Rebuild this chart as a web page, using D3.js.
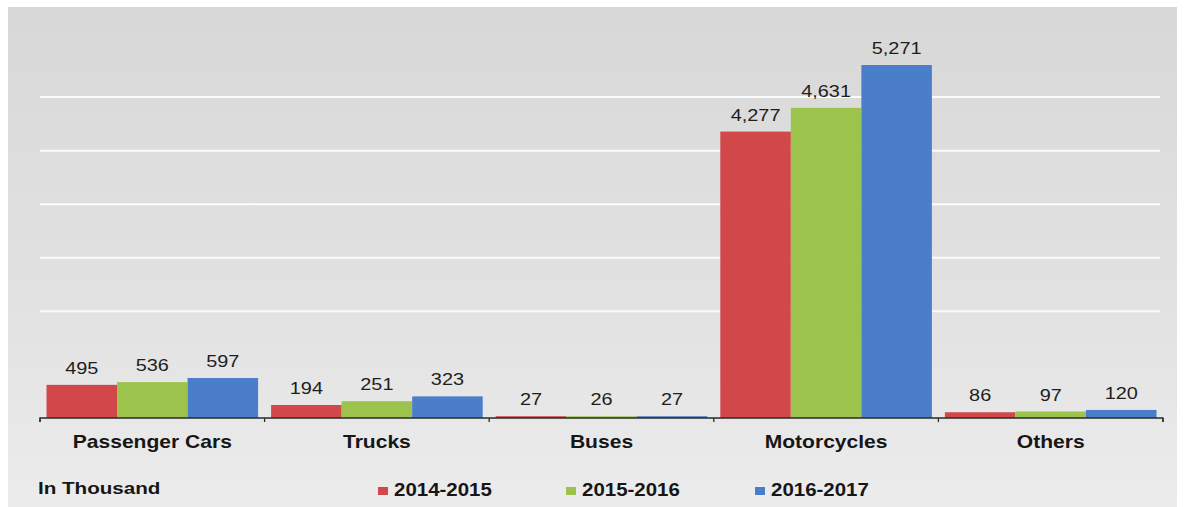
<!DOCTYPE html>
<html>
<head>
<meta charset="utf-8">
<script src="https://cdn.jsdelivr.net/npm/d3@7"></script>
<style>
  html, body { margin: 0; padding: 0; background: #ffffff; }
  svg { display: block; }
  text { font-family: "Liberation Sans", Arial, sans-serif; }
</style>
</head>
<body>
<svg id="chart" width="1185" height="507"></svg>
<script>
// ---- data ----
const categories = ["Passenger Cars", "Trucks", "Buses", "Motorcycles", "Others"];
const seriesNames = ["2014-2015", "2015-2016", "2016-2017"];
const values2014 = [495, 194, 27, 4277, 86];
const values2015 = [536, 251, 26, 4631, 97];
const values2016 = [597, 323, 27, 5271, 120];
const gridTicks = [1600, 2400, 3200, 4000, 4800];
const unitLabel = "In Thousand";

const seriesValues = [values2014, values2015, values2016];
const colors = ["#d2484a", "#9cc44c", "#4a7ecb"];
const SX = 1.17; // horizontal text stretch seen in the reference

const svg = d3.select("#chart");
const W = 1185, H = 507;

// background with soft gradient
const defs = svg.append("defs");
const grad = defs.append("linearGradient").attr("id", "bg").attr("x1", 0).attr("y1", 0).attr("x2", 0).attr("y2", 1);
grad.append("stop").attr("offset", "0%").attr("stop-color", "#d8d8d8");
grad.append("stop").attr("offset", "60%").attr("stop-color", "#e2e2e2");
grad.append("stop").attr("offset", "100%").attr("stop-color", "#ececec");
svg.append("rect").attr("x", 8).attr("y", 7).attr("width", 1169).attr("height", H - 7).attr("fill", "url(#bg)");

// scales
const x0 = d3.scaleBand().domain(categories).range([40, 1163]).padding(0);
const x1 = d3.scaleBand().domain(seriesNames).range([6.5, x0.bandwidth() - 6.5]).padding(0);
const y = d3.scaleLinear().domain([0, 5600]).range([418, 43]);

// gridlines
const grid = svg.append("g").attr("transform", "translate(40,0)")
  .call(d3.axisLeft(y).tickValues(gridTicks).tickSize(-1120).tickFormat(""));
grid.select(".domain").remove();
grid.selectAll(".tick line").attr("stroke", "#fbfbfb").attr("stroke-width", 2);

// bars
const rows = categories.map((c, i) => ({ cat: c, vals: seriesNames.map((s, j) => ({ s, j, v: seriesValues[j][i] })) }));
const groups = svg.append("g").selectAll("g").data(rows).join("g")
  .attr("transform", d => `translate(${x0(d.cat)},0)`);
groups.selectAll("rect").data(d => d.vals).join("rect")
  .attr("x", d => x1(d.s))
  .attr("width", x1.bandwidth())
  .attr("y", d => y(d.v))
  .attr("height", d => y(0) - y(d.v))
  .attr("fill", d => colors[d.j]);

// value labels
const fmt = d3.format(",");
groups.selectAll("text.val").data(d => d.vals).join("text")
  .attr("class", "val")
  .attr("transform", d => `translate(${x1(d.s) + x1.bandwidth() / 2},${y(d.v) - 11}) scale(${SX},1)`)
  .attr("text-anchor", "middle")
  .attr("font-size", 17)
  .attr("fill", "#1e1e1e")
  .text(d => fmt(d.v));

// x axis
const xAxis = svg.append("g").attr("transform", "translate(0,418)")
  .call(d3.axisBottom(x0).tickSize(0).tickFormat(""));
xAxis.select(".domain").attr("stroke", "#2a2a2a").attr("stroke-width", 1.3).attr("d", "M40,4V0H1163V4");
// boundary ticks
const bounds = categories.map(c => x0(c)).concat([x0(categories[categories.length - 1]) + x0.bandwidth()]);
xAxis.selectAll("line.bt").data(bounds).join("line").attr("class", "bt")
  .attr("x1", d => d).attr("x2", d => d).attr("y1", 0).attr("y2", 4)
  .attr("stroke", "#2a2a2a").attr("stroke-width", 1.3);

// category labels
svg.append("g").selectAll("text").data(categories).join("text")
  .attr("transform", d => `translate(${x0(d) + x0.bandwidth() / 2},448) scale(${SX},1)`)
  .attr("text-anchor", "middle")
  .attr("font-size", 18)
  .attr("font-weight", "bold")
  .attr("fill", "#161616")
  .text(d => d);

// unit label
svg.append("text")
  .attr("transform", `translate(38,494) scale(1.25,1)`)
  .attr("font-size", 16.5)
  .attr("font-weight", "bold")
  .attr("fill", "#161616")
  .text(unitLabel);

// legend
const legX = [378, 566, 755];
const leg = svg.append("g").selectAll("g").data(seriesNames).join("g")
  .attr("transform", (d, i) => `translate(${legX[i]},0)`);
leg.append("rect").attr("x", 0).attr("y", 487).attr("width", 10).attr("height", 8)
  .attr("fill", (d, i) => colors[i]);
leg.append("text")
  .attr("transform", `translate(16,496) scale(${SX},1)`)
  .attr("font-size", 17.5)
  .attr("font-weight", "bold")
  .attr("fill", "#161616")
  .text(d => d);
</script>
</body>
</html>
